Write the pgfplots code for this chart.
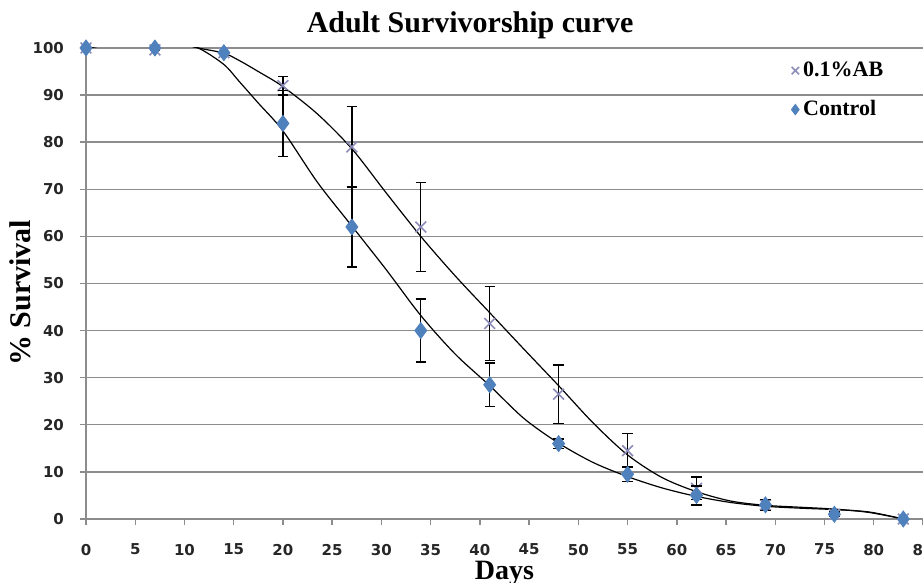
\documentclass[border=0pt]{standalone}
\usepackage{fontspec}
\setmainfont{Liberation Serif}
\newfontfamily\tickfont{DejaVu Sans}
\usepackage{pgfplots}
\usepackage{pgfplotstable}
\pgfplotsset{compat=1.18}
\definecolor{ctrlblue}{RGB}{79,129,189}
\definecolor{abcol}{RGB}{140,140,185}
\definecolor{gridgray}{RGB}{140,140,140}

\pgfplotstableread{
x  y     e
0  100   0
7  99.6  0
14 99    0
20 92    2
27 79    8.6
34 62    9.5
41 41.5  7.8
48 26.5  6.2
55 14.5  3.6
62 6.5   2.4
69 3     1
76 1     0.5
83 0     0
}\abdata

\pgfplotstableread{
x  y     e
0  100   0
7  100   0
14 99    0
20 84    7
27 62    8.5
34 40    6.7
41 28.5  4.6
48 16    1
55 9.5   1.5
62 5     2
69 3     1.2
76 1     0.5
83 0     0
}\ctrldata

\begin{document}
\begin{tikzpicture}
\begin{axis}[
  scale only axis, width=418.5pt, height=235.5pt,
  xmin=0, xmax=85, ymin=0, ymax=100,
  xtick={0,5,...,85}, ytick={0,10,...,100},
  axis x line*=bottom, axis y line*=left,
  x axis line style={-}, y axis line style={-},
  axis line style={draw=gridgray, line width=0.7pt},
  ymajorgrids, grid style={gridgray, line width=0.7pt},
  tick style={gridgray, line width=0.7pt}, tick align=outside, major tick length=3pt,
  /pgf/number format/assume math mode=true,
  ticklabel style={font=\tickfont\bfseries\fontsize{7.5}{9}\selectfont, text=black!85},
  xticklabel style={yshift=-6pt},
  yticklabel style={xshift=-4.5pt},
  clip mode=individual,
  title={Adult Survivorship curve},
  title style={at={(axis description cs:0.459,1)}, yshift=5.5pt, anchor=center, font=\bfseries\fontsize{15}{18}\selectfont},
  xlabel={Days},
  xlabel style={at={(axis description cs:0.5,0)}, yshift=-27pt, anchor=center, font=\bfseries\fontsize{14}{16}\selectfont},
  ylabel={\% Survival},
  ylabel style={at={(axis description cs:0,0.48)}, yshift=33pt, anchor=center, font=\bfseries\fontsize{15}{18}\selectfont},
  legend style={at={(axis cs:71.6,98.0)}, anchor=north west, draw=none, fill=none,
    font=\bfseries\fontsize{11}{13}\selectfont, row sep=6.5pt, inner sep=0pt},
  legend cell align=left,
  legend image code/.code={\draw[#1,/tikz/mark size=2.6pt] plot coordinates {(0pt,0pt)};},
]
% trendlines
\addplot[black, line width=0.6pt, smooth, forget plot] coordinates {
(0,100) (1,100.3) (3,101) (6,101.6) (9,101.2) (11.4,100) (14,98.9) (15.6,97.3) (17.5,95) (20,91.8)
(23.5,86) (27,78.6) (30.5,69.2) (34,60) (37.5,51.6) (41,43.8) (44.5,36)
(48,28.3) (51.5,20.4) (55,13.6) (58.5,8.8) (62,5.8) (65.5,3.8) (69,2.9)
(72.5,2.5) (76,2.1) (79.5,1.4) (83,0)};
\addplot[black, line width=0.6pt, smooth, forget plot] coordinates {
(0,100) (1,100.3) (3,101) (6,101.6) (9,101.2) (11.4,100) (14,96.5) (15.6,92.8) (17.5,88.3) (20,82.4)
(23.5,71.5) (27,62.2) (30.5,52.9) (34,43.2) (37.5,35) (41,28.3) (44.5,21.3)
(48,16.1) (51.5,12) (55,9.0) (58.5,6.6) (62,4.8) (65.5,3.5) (69,2.7)
(72.5,2.3) (76,2.0) (79.5,1.5) (83,0)};
% data with error bars
\addplot[only marks, mark=x, mark size=3.8pt, color=abcol, line width=0.8pt,
  error bars/.cd, y dir=both, y explicit,
  error bar style={black, line width=0.7pt},
  error mark options={rotate=90, black, mark size=2.6pt, line width=0.7pt}]
  table[x=x, y=y, y error=e] {\abdata};
\addlegendentry{0.1\%AB}
\addplot[only marks, mark=diamond*, mark size=4pt, color=ctrlblue,
  error bars/.cd, y dir=both, y explicit,
  error bar style={black, line width=0.7pt},
  error mark options={rotate=90, black, mark size=2.6pt, line width=0.7pt}]
  table[x=x, y=y, y error=e] {\ctrldata};
\addlegendentry{Control}
\end{axis}
\pgfresetboundingbox
\path[use as bounding box] (-43pt,-32pt) rectangle (418.5pt,259.5pt);
\end{tikzpicture}
\end{document}
